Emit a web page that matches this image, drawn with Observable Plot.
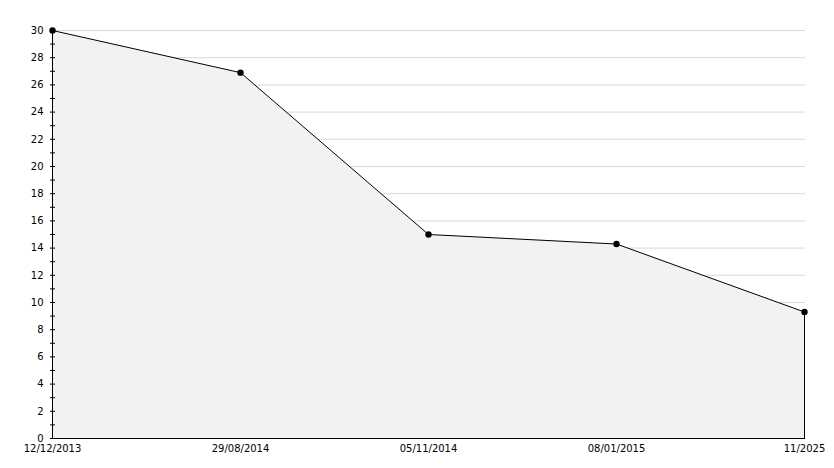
<!DOCTYPE html>
<html>
<head>
<meta charset="utf-8">
<script src="https://cdn.jsdelivr.net/npm/d3@7"></script>
<script src="https://cdn.jsdelivr.net/npm/@observablehq/plot@0.6"></script>
<style>
  html, body { margin: 0; padding: 0; background: #fff; }
  svg { display: block; }
</style>
</head>
<body>
<div id="chart"></div>
<script>
const dates = ["12/12/2013", "29/08/2014", "05/11/2014", "08/01/2015", "11/2025"];
const values = [30, 26.9, 15, 14.3, 9.3];
const majorTicks = d3.range(0, 31, 2);
const minorTicks = d3.range(0, 31, 1);

const data = dates.map((d, i) => ({date: d, value: values[i]}));
const last = data[data.length - 1];

const chart = Plot.plot({
  width: 834,
  height: 468,
  marginLeft: 50,
  marginRight: 29,
  marginTop: 30,
  marginBottom: 30,
  style: {fontFamily: "DejaVu Sans", fontSize: "10px", color: "#000", background: "#fff"},
  x: {type: "point", domain: dates, padding: 0},
  y: {domain: [0, 30]},
  marks: [
    Plot.ruleY(majorTicks.filter(d => d > 0), {stroke: "#d9d9d9", strokeWidth: 1}),
    Plot.areaY(data, {x: "date", y: "value", fill: "#f2f2f2"}),
    Plot.lineY(data, {x: "date", y: "value", stroke: "#000", strokeWidth: 1}),
    Plot.ruleX([last], {x: "date", y1: 0, y2: "value", stroke: "#000"}),
    Plot.ruleX([dates[0]], {y1: 0, y2: 30, stroke: "#000"}),
    Plot.ruleY([0], {stroke: "#000"}),
    Plot.axisY(minorTicks, {tickSize: 5, dx: 5, text: null, label: null, stroke: "#000"}),
    Plot.dot(data, {x: "date", y: "value", r: 3.2, fill: "#000"}),
    Plot.axisY(majorTicks, {tickSize: 0, tickPadding: 7, label: null, fill: "#000"}),
    Plot.axisX({tickSize: 0, tickPadding: 6, label: null, fill: "#000"})
  ]
});
document.getElementById("chart").appendChild(chart);
</script>
</body>
</html>
